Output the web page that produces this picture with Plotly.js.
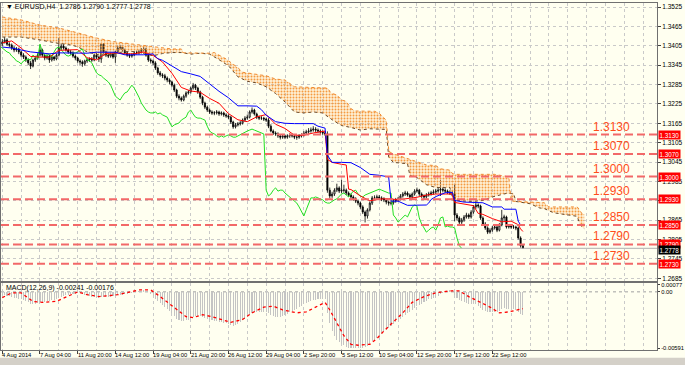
<!DOCTYPE html>
<html><head><meta charset="utf-8">
<script src="https://cdn.plot.ly/plotly-3.0.1.min.js"></script>
<style>html,body{margin:0;padding:0;background:#FFFFF0;}#chart{width:685px;height:365px;}</style>
</head><body><div id="chart"></div>
<script>
// ---- price data (EURUSD H4), one entry per bar ----
const opens = [1.3410,1.3417,1.3423,1.3410,1.3407,1.3398,1.3392,1.3395,1.3386,1.3376,
1.3370,1.3361,1.3352,1.3342,1.3361,1.3367,1.3376,1.3392,1.3376,1.3367,
1.3373,1.3361,1.3370,1.3364,1.3376,1.3398,1.3404,1.3398,1.3392,1.3386,
1.3383,1.3373,1.3367,1.3358,1.3355,1.3349,1.3358,1.3361,1.3364,1.3361,
1.3376,1.3370,1.3364,1.3410,1.3386,1.3376,1.3373,1.3380,1.3370,1.3386,
1.3398,1.3401,1.3392,1.3383,1.3376,1.3373,1.3376,1.3383,1.3383,1.3386,
1.3392,1.3395,1.3376,1.3361,1.3358,1.3352,1.3336,1.3321,1.3315,1.3312,
1.3305,1.3299,1.3293,1.3283,1.3268,1.3249,1.3243,1.3237,1.3249,1.3259,
1.3262,1.3274,1.3283,1.3274,1.3262,1.3246,1.3228,1.3215,1.3206,1.3200,
1.3197,1.3197,1.3200,1.3194,1.3197,1.3191,1.3188,1.3184,1.3169,1.3154,
1.3160,1.3163,1.3166,1.3175,1.3181,1.3184,1.3200,1.3206,1.3194,1.3184,
1.3181,1.3181,1.3178,1.3175,1.3156,1.3141,1.3135,1.3132,1.3126,1.3122,
1.3126,1.3122,1.3126,1.3129,1.3126,1.3122,1.3122,1.3126,1.3129,1.3135,
1.3138,1.3141,1.3144,1.3147,1.3144,1.3141,1.3138,1.3135,1.3132,1.2958,
1.2940,1.2946,1.2958,1.2965,1.2955,1.2958,1.2958,1.2949,1.2943,1.2937,
1.2931,1.2924,1.2918,1.2906,1.2890,1.2878,1.2897,1.2918,1.2934,1.2934,
1.2937,1.2934,1.2931,1.2928,1.2921,1.2918,1.2918,1.2924,1.2928,1.2931,
1.2940,1.2946,1.2949,1.2943,1.2937,1.2946,1.2955,1.2958,1.2946,1.2940,
1.2937,1.2943,1.2946,1.2949,1.2952,1.2955,1.2958,1.2961,1.2958,1.2955,
1.2952,1.2949,1.2949,1.2881,1.2872,1.2859,1.2866,1.2875,1.2881,1.2875,
1.2890,1.2906,1.2912,1.2909,1.2872,1.2853,1.2841,1.2828,1.2834,1.2841,
1.2844,1.2834,1.2850,1.2872,1.2875,1.2844,1.2847,1.2844,1.2844,1.2841,
1.2810,1.2786];
const highs = [1.3426,1.3432,1.3428,1.3416,1.3412,1.3404,1.3401,1.3399,1.3390,1.3382,
1.3375,1.3366,1.3358,1.3365,1.3374,1.3382,1.3408,1.3396,1.3381,1.3379,
1.3377,1.3376,1.3374,1.3381,1.3430,1.3412,1.3410,1.3403,1.3397,1.3392,
1.3388,1.3378,1.3371,1.3363,1.3360,1.3362,1.3367,1.3369,1.3370,1.3381,
1.3383,1.3375,1.3414,1.3413,1.3390,1.3381,1.3385,1.3384,1.3390,1.3405,
1.3408,1.3405,1.3396,1.3388,1.3381,1.3382,1.3388,1.3390,1.3393,1.3398,
1.3404,1.3399,1.3380,1.3366,1.3362,1.3357,1.3340,1.3327,1.3320,1.3318,
1.3310,1.3304,1.3297,1.3288,1.3272,1.3255,1.3248,1.3254,1.3264,1.3268,
1.3279,1.3290,1.3287,1.3278,1.3266,1.3250,1.3232,1.3220,1.3211,1.3205,
1.3203,1.3206,1.3204,1.3202,1.3201,1.3196,1.3193,1.3188,1.3173,1.3166,
1.3169,1.3172,1.3180,1.3187,1.3192,1.3205,1.3214,1.3210,1.3198,1.3189,
1.3187,1.3185,1.3182,1.3181,1.3162,1.3146,1.3140,1.3137,1.3131,1.3132,
1.3130,1.3131,1.3134,1.3133,1.3130,1.3128,1.3131,1.3134,1.3141,1.3145,
1.3150,1.3152,1.3156,1.3153,1.3149,1.3146,1.3143,1.3140,1.3140,1.2966,
1.2953,1.2964,1.2978,1.2970,1.2990,1.2975,1.2963,1.2954,1.2948,1.2942,
1.2936,1.2929,1.2922,1.2911,1.2895,1.2902,1.2923,1.2940,1.2942,1.2944,
1.2943,1.2939,1.2936,1.2933,1.2926,1.2925,1.2930,1.2934,1.2937,1.2946,
1.2952,1.2956,1.2954,1.2948,1.2951,1.2961,1.2966,1.2962,1.2951,1.2945,
1.2949,1.2953,1.2956,1.2960,1.2962,1.2966,1.2990,1.2967,1.2964,1.2960,
1.2958,1.2957,1.2975,1.2887,1.2877,1.2872,1.2881,1.2888,1.2886,1.2896,
1.2912,1.2919,1.2917,1.2913,1.2877,1.2859,1.2846,1.2840,1.2847,1.2850,
1.2849,1.2856,1.2897,1.2882,1.2879,1.2853,1.2852,1.2850,1.2848,1.2845,
1.2815,1.2790];
const lows = [1.3404,1.3412,1.3405,1.3400,1.3392,1.3385,1.3386,1.3379,1.3370,1.3364,
1.3355,1.3345,1.3333,1.3338,1.3355,1.3362,1.3372,1.3370,1.3360,1.3362,
1.3352,1.3356,1.3358,1.3360,1.3372,1.3392,1.3393,1.3387,1.3380,1.3377,
1.3368,1.3360,1.3352,1.3346,1.3340,1.3343,1.3352,1.3355,1.3355,1.3357,
1.3364,1.3355,1.3352,1.3380,1.3370,1.3367,1.3368,1.3365,1.3352,1.3382,
1.3393,1.3387,1.3378,1.3371,1.3367,1.3368,1.3372,1.3378,1.3378,1.3381,
1.3388,1.3371,1.3355,1.3350,1.3345,1.3330,1.3315,1.3309,1.3305,1.3298,
1.3292,1.3286,1.3277,1.3262,1.3243,1.3236,1.3232,1.3233,1.3244,1.3254,
1.3257,1.3269,1.3268,1.3256,1.3240,1.3221,1.3209,1.3200,1.3194,1.3191,
1.3190,1.3192,1.3188,1.3189,1.3185,1.3182,1.3178,1.3163,1.3148,1.3149,
1.3155,1.3158,1.3161,1.3170,1.3176,1.3180,1.3195,1.3189,1.3178,1.3175,
1.3175,1.3172,1.3169,1.3150,1.3137,1.3129,1.3126,1.3120,1.3115,1.3117,
1.3116,1.3117,1.3120,1.3121,1.3116,1.3114,1.3117,1.3121,1.3124,1.3130,
1.3133,1.3136,1.3139,1.3138,1.3135,1.3132,1.3129,1.3126,1.2950,1.2932,
1.2934,1.2940,1.2952,1.2949,1.2948,1.2950,1.2943,1.2937,1.2930,1.2925,
1.2918,1.2911,1.2900,1.2884,1.2858,1.2870,1.2892,1.2912,1.2927,1.2928,
1.2928,1.2924,1.2921,1.2914,1.2910,1.2911,1.2913,1.2919,1.2922,1.2926,
1.2935,1.2940,1.2938,1.2931,1.2932,1.2941,1.2950,1.2940,1.2934,1.2930,
1.2932,1.2938,1.2941,1.2944,1.2946,1.2950,1.2940,1.2951,1.2949,1.2946,
1.2943,1.2942,1.2862,1.2864,1.2853,1.2852,1.2860,1.2870,1.2869,1.2870,
1.2885,1.2900,1.2902,1.2866,1.2847,1.2835,1.2822,1.2823,1.2829,1.2836,
1.2828,1.2830,1.2846,1.2862,1.2839,1.2839,1.2838,1.2838,1.2834,1.2805,
1.2780,1.2777];
const closes = [1.3417,1.3423,1.3410,1.3407,1.3398,1.3392,1.3395,1.3386,1.3376,1.3370,
1.3361,1.3352,1.3342,1.3361,1.3367,1.3376,1.3392,1.3376,1.3367,1.3373,
1.3361,1.3370,1.3364,1.3376,1.3398,1.3404,1.3398,1.3392,1.3386,1.3383,
1.3373,1.3367,1.3358,1.3355,1.3349,1.3358,1.3361,1.3364,1.3361,1.3376,
1.3370,1.3364,1.3410,1.3386,1.3376,1.3373,1.3380,1.3370,1.3386,1.3398,
1.3401,1.3392,1.3383,1.3376,1.3373,1.3376,1.3383,1.3383,1.3386,1.3392,
1.3395,1.3376,1.3361,1.3358,1.3352,1.3336,1.3321,1.3315,1.3312,1.3305,
1.3299,1.3293,1.3283,1.3268,1.3249,1.3243,1.3237,1.3249,1.3259,1.3262,
1.3274,1.3283,1.3274,1.3262,1.3246,1.3228,1.3215,1.3206,1.3200,1.3197,
1.3197,1.3200,1.3194,1.3197,1.3191,1.3188,1.3184,1.3169,1.3154,1.3160,
1.3163,1.3166,1.3175,1.3181,1.3184,1.3200,1.3206,1.3194,1.3184,1.3181,
1.3181,1.3178,1.3175,1.3156,1.3141,1.3135,1.3132,1.3126,1.3122,1.3126,
1.3122,1.3126,1.3129,1.3126,1.3122,1.3122,1.3126,1.3129,1.3135,1.3138,
1.3141,1.3144,1.3147,1.3144,1.3141,1.3138,1.3135,1.3132,1.2958,1.2940,
1.2946,1.2958,1.2965,1.2955,1.2958,1.2958,1.2949,1.2943,1.2937,1.2931,
1.2924,1.2918,1.2906,1.2890,1.2878,1.2897,1.2918,1.2934,1.2934,1.2937,
1.2934,1.2931,1.2928,1.2921,1.2918,1.2918,1.2924,1.2928,1.2931,1.2940,
1.2946,1.2949,1.2943,1.2937,1.2946,1.2955,1.2958,1.2946,1.2940,1.2937,
1.2943,1.2946,1.2949,1.2952,1.2955,1.2958,1.2961,1.2958,1.2955,1.2952,
1.2949,1.2949,1.2881,1.2872,1.2859,1.2866,1.2875,1.2881,1.2875,1.2890,
1.2906,1.2912,1.2909,1.2872,1.2853,1.2841,1.2828,1.2834,1.2841,1.2844,
1.2834,1.2850,1.2872,1.2875,1.2844,1.2847,1.2844,1.2844,1.2841,1.2810,
1.2786,1.2778];

// ---- Ichimoku lines (bar index, value) ----
const tenkanBars = [0,4,8,12,16,20,24,28,32,36,40,44,48,52,56,60,64,68,72,76,80,84,88,92,96,100,104,108,112,116,120,124,128,132,136,137,138,140,144,146,147,148,152,156,160,164,168,172,176,180,184,188,191,192,196,200,202,204,208,212,216,219,220,221];
const tenkan = [1.3414,1.3420,1.3398,1.3372,1.3370,1.3370,1.3391,1.3391,1.3393,1.3368,1.3361,1.3381,1.3383,1.3380,1.3380,1.3386,1.3375,1.3355,1.3320,1.3276,1.3265,1.3261,1.3242,1.3227,1.3195,1.3176,1.3170,1.3185,1.3192,1.3162,1.3149,1.3128,1.3128,1.3135,1.3140,1.3141,1.3053,1.3044,1.3038,1.3036,1.2961,1.2960,1.2940,1.2925,1.2930,1.2932,1.2928,1.2932,1.2936,1.2943,1.2946,1.2946,1.2946,1.2920,1.2914,1.2910,1.2886,1.2883,1.2870,1.2860,1.2862,1.2851,1.2838,1.2830];
const kijunBars = [0,4,8,12,16,20,24,28,32,36,40,44,48,52,56,60,64,66,68,72,76,80,84,88,92,96,100,104,108,110,112,116,120,124,128,132,134,136,137,138,140,144,148,152,156,160,164,165,168,172,176,180,181,182,184,188,191,192,196,200,204,208,212,213,216,218,219,220,221];
const kijun = [1.3401,1.3398,1.3392,1.3386,1.3383,1.3380,1.3383,1.3383,1.3383,1.3382,1.3385,1.3385,1.3385,1.3377,1.3377,1.3377,1.3380,1.3365,1.3360,1.3343,1.3325,1.3318,1.3310,1.3287,1.3264,1.3244,1.3219,1.3219,1.3218,1.3207,1.3190,1.3170,1.3165,1.3164,1.3164,1.3164,1.3156,1.3151,1.3150,1.3066,1.3044,1.3044,1.3043,1.3028,1.3007,1.3004,1.2999,1.2924,1.2924,1.2911,1.2912,1.2912,1.2918,1.2929,1.2938,1.2950,1.2951,1.2926,1.2921,1.2921,1.2919,1.2906,1.2906,1.2899,1.2899,1.2899,1.2862,1.2850,1.2848];
const spanABars = [0,8,16,24,28,32,36,40,44,48,52,56,60,64,68,72,76,80,84,88,92,96,100,104,108,112,116,120,124,128,132,136,140,144,148,152,156,160,163,164,166,170,172,173,176,180,184,188,190,191,192,196,200,204,208,212,214,216,217,218,220,224,228,230,234,238,242,244,245,246,247];
const spanA = [1.3432,1.3432,1.3423,1.3412,1.3409,1.3402,1.3386,1.3378,1.3376,1.3381,1.3387,1.3387,1.3381,1.3374,1.3381,1.3384,1.3384,1.3379,1.3382,1.3379,1.3362,1.3343,1.3309,1.3295,1.3290,1.3278,1.3257,1.3231,1.3200,1.3197,1.3200,1.3197,1.3176,1.3158,1.3152,1.3144,1.3148,1.3146,1.3146,1.3060,1.3044,1.3041,1.3040,1.3003,1.2997,1.2975,1.2966,1.2966,1.2966,1.2928,1.2927,1.2924,1.2923,1.2926,1.2937,1.2945,1.2948,1.2948,1.2948,1.2923,1.2920,1.2916,1.2903,1.2901,1.2888,1.2883,1.2880,1.2877,1.2856,1.2844,1.2839];
const spanBBars = [0,8,16,24,32,40,48,56,64,72,76,77,88,90,95,100,102,112,116,120,124,136,138,139,140,142,143,144,146,148,150,158,160,161,162,163,164,165,180,184,186,188,190,191,192,209,211,213,215,216,220,230,232,244,245,246,247];
const spanB = [1.3494,1.3485,1.3469,1.3460,1.3445,1.3429,1.3417,1.3410,1.3401,1.3395,1.3395,1.3383,1.3382,1.3384,1.3364,1.3337,1.3323,1.3312,1.3302,1.3299,1.3278,1.3276,1.3274,1.3264,1.3257,1.3253,1.3244,1.3237,1.3233,1.3210,1.3203,1.3202,1.3196,1.3190,1.3182,1.3173,1.3085,1.3073,1.3036,1.3034,1.3024,1.3022,1.3020,1.3010,1.3007,1.3007,1.3004,1.3001,1.2999,1.2924,1.2922,1.2919,1.2906,1.2906,1.2898,1.2885,1.2884];
const chikouShift = 26;

// ---- MACD(12,26,9) ----
const macdMain = [-0.0003,-0.0003,-0.0004,-0.0004,-0.0005,-0.0006,-0.0006,-0.0007,-0.0008,-0.0009,
-0.0010,-0.0011,-0.0013,-0.0013,-0.0013,-0.0012,-0.0011,-0.0011,-0.0011,-0.0010,
-0.0010,-0.0009,-0.0009,-0.0008,-0.0006,-0.0005,-0.0004,-0.0003,-0.0003,-0.0002,
-0.0002,-0.0002,-0.0001,-0.0001,-0.0002,-0.0003,-0.0003,-0.0004,-0.0005,-0.0005,
-0.0006,-0.0006,-0.0005,-0.0005,-0.0005,-0.0005,-0.0005,-0.0004,-0.0004,-0.0003,
-0.0003,-0.0003,-0.0002,-0.0002,-0.0001,-0.0001,0.0000,0.0000,0.0001,0.0001,
0.0002,0.0001,0.0000,-0.0002,-0.0004,-0.0007,-0.0010,-0.0012,-0.0014,-0.0016,
-0.0018,-0.0020,-0.0022,-0.0025,-0.0028,-0.0030,-0.0031,-0.0031,-0.0030,-0.0030,
-0.0028,-0.0026,-0.0025,-0.0025,-0.0025,-0.0026,-0.0027,-0.0028,-0.0029,-0.0030,
-0.0031,-0.0031,-0.0032,-0.0032,-0.0033,-0.0033,-0.0034,-0.0035,-0.0036,-0.0035,
-0.0034,-0.0032,-0.0030,-0.0028,-0.0026,-0.0024,-0.0022,-0.0021,-0.0021,-0.0021,
-0.0021,-0.0021,-0.0021,-0.0022,-0.0024,-0.0025,-0.0026,-0.0026,-0.0026,-0.0025,
-0.0024,-0.0023,-0.0021,-0.0020,-0.0019,-0.0018,-0.0016,-0.0015,-0.0013,-0.0012,
-0.0011,-0.0010,-0.0009,-0.0009,-0.0008,-0.0008,-0.0008,-0.0008,-0.0022,-0.0033,
-0.0041,-0.0046,-0.0050,-0.0053,-0.0055,-0.0056,-0.0058,-0.0059,-0.0059,-0.0059,
-0.0059,-0.0059,-0.0059,-0.0059,-0.0058,-0.0057,-0.0055,-0.0052,-0.0050,-0.0048,
-0.0046,-0.0044,-0.0042,-0.0040,-0.0038,-0.0036,-0.0034,-0.0032,-0.0030,-0.0028,
-0.0026,-0.0024,-0.0022,-0.0021,-0.0019,-0.0017,-0.0015,-0.0014,-0.0013,-0.0011,
-0.0010,-0.0008,-0.0007,-0.0006,-0.0005,-0.0004,-0.0002,-0.0001,0.0000,0.0001,
0.0002,0.0002,-0.0003,-0.0006,-0.0009,-0.0010,-0.0011,-0.0012,-0.0013,-0.0013,
-0.0012,-0.0013,-0.0015,-0.0017,-0.0019,-0.0020,-0.0021,-0.0021,-0.0021,-0.0021,
-0.0021,-0.0020,-0.0018,-0.0017,-0.0018,-0.0018,-0.0018,-0.0018,-0.0019,-0.0021,
-0.0023,-0.00241];
const signalBars = [0,4,8,13,17,23,32,36,41,49,58,63,67,72,78,81,85,89,97,102,106,111,115,119,125,129,134,137,139,142,145,148,151,156,159,162,166,170,174,179,184,190,194,198,203,207,211,215,221];
const signal = [-0.0006,-0.0001,-0.0001,-0.0010,-0.0011,-0.0010,0.0000,-0.0003,-0.0005,-0.0003,0.0002,0.0002,-0.0005,-0.0015,-0.0026,-0.0027,-0.0024,-0.0026,-0.0032,-0.0029,-0.0022,-0.0016,-0.0015,-0.0019,-0.0022,-0.0021,-0.0015,-0.0011,-0.0019,-0.0032,-0.0046,-0.0055,-0.0056,-0.0055,-0.0049,-0.0041,-0.0032,-0.0022,-0.0011,-0.0005,-0.0001,0.0001,0.0001,-0.0005,-0.0011,-0.0016,-0.0022,-0.0021,-0.00176];

// ---- levels, labels ----
const levels = [1.3130, 1.3070, 1.3000, 1.2930, 1.2850, 1.2790, 1.2730];
const levelText = ['1.3130','1.3070','1.3000','1.2930','1.2850','1.2790','1.2730'];
const bidPrice = 1.2778;
const priceTicks = [1.3525,1.3465,1.3405,1.3345,1.3285,1.3225,1.3165,1.3105,1.3045,1.2985,1.2925,1.2865,1.2805,1.2745,1.2685];
const priceTickText = ['1.3525','1.3465','1.3405','1.3345','1.3285','1.3225','1.3165','1.3105','1.3045','1.2985','','1.2865','1.2805','1.2745','1.2685'];
const timeLabels = ['4 Aug 2014','7 Aug 04:00','11 Aug 20:00','14 Aug 12:00','19 Aug 04:00','21 Aug 20:00','26 Aug 12:00','29 Aug 04:00','2 Sep 20:00','5 Sep 12:00','10 Sep 04:00','12 Sep 20:00','17 Sep 12:00','22 Sep 12:00'];
const timeLabelBars = [0,16,32,48,64,80,96,112,128,144,160,176,192,208];
const macdTicks = [0.00077, 0, -0.00591];
const macdTickText = ['0.00077','0.00','-0.00591'];
const titleText = '\u25BC EURUSD,H4  1.2786 1.2790 1.2777 1.2778';
const macdTitle = 'MACD(12,26,9) -0.00241 -0.00176';

const idx = closes.map((_, i) => i);
const FONT = 'Liberation Sans, Arial, sans-serif';
const grid = '#C9C9C9';

// cloud polygon: span B forward, span A backward
const cloudX = spanBBars.concat(spanABars.slice().reverse());
const cloudY = spanB.concat(spanA.slice().reverse());

const traces = [
  {x: cloudX, y: cloudY, type:'scatter', mode:'lines', line:{width:0, color:'rgba(0,0,0,0)', simplify:false},
   fill:'toself', fillcolor:'rgba(245,160,80,0.16)', hoverinfo:'skip'},
  {x: cloudX, y: cloudY, type:'scatter', mode:'lines', line:{width:0, color:'rgba(0,0,0,0)', simplify:false},
   fill:'toself', fillcolor:'rgba(0,0,0,0)',
   fillpattern:{shape:'.', fgcolor:'#F59A40', bgcolor:'rgba(0,0,0,0)', size:3, solidity:0.32}, hoverinfo:'skip'},
  {x: spanABars, y: spanA, type:'scatter', mode:'lines', line:{color:'#6B4A2B', width:1, dash:'dot'}, hoverinfo:'skip'},
  {x: spanBBars, y: spanB, type:'scatter', mode:'lines', line:{color:'#F08A30', width:1, dash:'dot'}, hoverinfo:'skip'},
  {x: idx, open: opens, high: highs, low: lows, close: closes, type:'candlestick',
   increasing:{line:{color:'#000000', width:0.8}, fillcolor:'#FFFFFF'},
   decreasing:{line:{color:'#000000', width:0.8}, fillcolor:'#000000'},
   whiskerwidth:0, hoverinfo:'skip'},
  {x: idx.map(i => i - chikouShift), y: closes, type:'scatter', mode:'lines', line:{color:'#22E022', width:1}, hoverinfo:'skip'},
  {x: tenkanBars, y: tenkan, type:'scatter', mode:'lines', line:{color:'#FF0000', width:1}, hoverinfo:'skip'},
  {x: kijunBars, y: kijun, type:'scatter', mode:'lines', line:{color:'#0000FF', width:1}, hoverinfo:'skip'},
  {x: idx, y: macdMain, type:'bar', xaxis:'x2', yaxis:'y2', width:0.45, marker:{color:'#C4C4C4', line:{width:0}}, hoverinfo:'skip'},
  {x: signalBars, y: signal, type:'scatter', mode:'lines', xaxis:'x2', yaxis:'y2', line:{color:'#FF0000', width:1.3, dash:'dot'}, hoverinfo:'skip'}
];

const shapes = [];
levels.forEach(v => shapes.push({type:'line', xref:'paper', x0:0, x1:1, yref:'y', y0:v, y1:v,
  line:{color:'#F26868', width:2, dash:'8px,4px'}, layer:'above'}));
shapes.push({type:'line', xref:'paper', x0:0, x1:1, yref:'y', y0:bidPrice, y1:bidPrice, line:{color:'#B0B0B0', width:1}, layer:'above'});
shapes.push({type:'line', xref:'paper', x0:0, x1:1, yref:'y2', y0:0, y1:0, line:{color:'#A0A0A0', width:1, dash:'dot'}, layer:'below'});
shapes.push({type:'rect', xref:'paper', x0:-0.01, x1:1.05, yref:'paper', y0:-0.06, y1:-0.022, fillcolor:'#D4D0C8', line:{width:0}, layer:'below'});

const annotations = [];
annotations.push({xref:'paper', yref:'paper', x:0.004, y:0.9885, xanchor:'left', yanchor:'middle', text:titleText, showarrow:false, font:{family:FONT, size:7, color:'#000'}});
annotations.push({xref:'paper', yref:'paper', x:0.004, y:0.1787, xanchor:'left', yanchor:'middle', text:macdTitle, showarrow:false, font:{family:FONT, size:7, color:'#000'}});
timeLabels.forEach((t, k) => annotations.push({xref:'x2', yref:'paper', x:timeLabelBars[k], y:-0.0144, xanchor:'left', yanchor:'middle', xshift:-2, text:t, showarrow:false, font:{family:FONT, size:5.8, color:'#000'}}));
levels.forEach((v, k) => annotations.push({xref:'paper', yref:'y', x:0.899, y:v, xanchor:'left', yanchor:'bottom', yshift:-1, text:levelText[k], showarrow:false, font:{family:FONT, size:12, color:'#FF4D1A'}}));
levels.forEach((v, k) => annotations.push({xref:'paper', yref:'y', x:1, y:v, xanchor:'left', yanchor:'middle', xshift:1, text:levelText[k], showarrow:false, bgcolor:'#FF0000', borderpad:0.5, font:{family:FONT, size:6.3, color:'#FFFFFF'}}));
annotations.push({xref:'paper', yref:'y', x:1, y:bidPrice, xanchor:'left', yanchor:'middle', xshift:1, yshift:-2, text:bidPrice.toFixed(4), showarrow:false, bgcolor:'#000000', borderpad:0.5, font:{family:FONT, size:6.3, color:'#FFFFFF'}});

const layout = {
  width:685, height:365, margin:{l:1, r:28, t:3, b:15},
  paper_bgcolor:'#FFFFF0', plot_bgcolor:'#FFFFF0', showlegend:false, dragmode:false,
  font:{family:FONT, size:7, color:'#000'},
  xaxis:{domain:[0,1], anchor:'y', range:[-0.55, 277.9], showticklabels:false, ticks:'',
    showgrid:true, gridcolor:grid, griddash:'dot', gridwidth:1, tick0:0, dtick:8, zeroline:false,
    showline:true, mirror:true, linecolor:'#707070', linewidth:1, rangeslider:{visible:false}},
  xaxis2:{domain:[0,1], anchor:'y2', matches:'x', showticklabels:false, tickmode:'array', tickvals:timeLabelBars,
    ticks:'outside', ticklen:3, tickcolor:'#404040', showgrid:true, gridcolor:grid, griddash:'dot',
    minor:{tickmode:'linear', tick0:0, dtick:8, showgrid:true, gridcolor:grid, griddash:'dot', ticks:''},
    zeroline:false, showline:true, mirror:true, linecolor:'#707070', linewidth:1, rangeslider:{visible:false}},
  yaxis:{domain:[0.1988,1], anchor:'x', side:'right', range:[1.26767, 1.35374], tickmode:'array',
    tickvals:priceTicks, ticktext:priceTickText, ticks:'outside', ticklen:3, tickcolor:'#404040',
    showgrid:true, gridcolor:grid, griddash:'dot', zeroline:false, showline:true, mirror:true, linecolor:'#707070',
    tickfont:{family:FONT, size:6.5, color:'#000'}},
  yaxis2:{domain:[0,0.1931], anchor:'x2', side:'right', range:[-0.0061, 0.00093], tickmode:'array',
    tickvals:macdTicks, ticktext:macdTickText, ticks:'outside', ticklen:2, tickcolor:'#404040',
    showgrid:false, zeroline:false, showline:true, mirror:true, linecolor:'#707070',
    tickfont:{family:FONT, size:5.8, color:'#000'}},
  bargap:0, shapes:shapes, annotations:annotations
};

Plotly.newPlot('chart', traces, layout, {staticPlot:true, displayModeBar:false});
</script>
</body></html>
